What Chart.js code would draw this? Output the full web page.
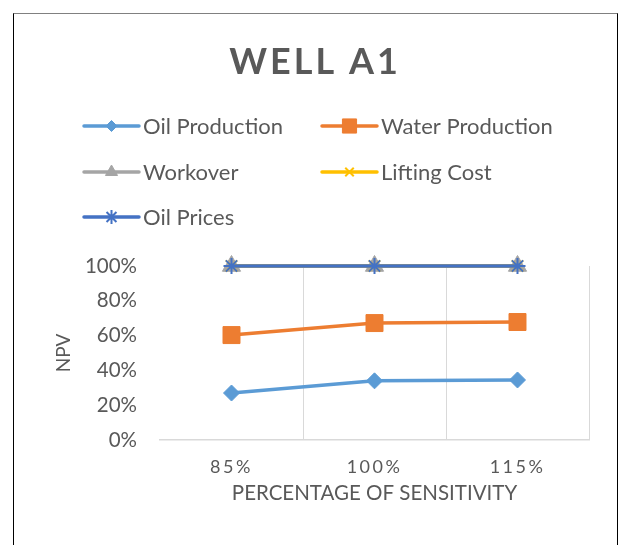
<!DOCTYPE html>
<html>
<head>
<meta charset="utf-8">
<script src="https://cdn.jsdelivr.net/npm/chart.js@4"></script>
<style>
  html, body { margin: 0; padding: 0; background: #fff; }
  #wrap { position: relative; width: 620px; height: 545px; overflow: hidden; }
  #moldura { position: absolute; left: 13px; top: 13px; width: 603px; height: 560px;
    border: 1px solid #000; border-top-color: #808080; }
  #grafico { position: absolute; left: 0; top: 0; }
</style>
</head>
<body>
<div id="wrap">
  <div id="moldura"></div>
  <canvas id="grafico" width="620" height="545"></canvas>
</div>
<script>
var categorias = ['85%', '100%', '115%']
var oilProduction = [27, 34, 34.5]
var waterProduction = [60.3, 67.2, 67.8]
var workover = [100, 100, 100]
var liftingCost = [100, 100, 100]
var oilPrices = [100, 100, 100]
var yTicks = [0, 20, 40, 60, 80, 100]

var cinza = '#595959'
var fonte = 'Lato, "Open Sans", sans-serif'

function serie(label, data, cor, estilo, raio, borda, ordem) {
    return {
        label: label,
        data: data,
        borderColor: cor,
        backgroundColor: cor,
        borderWidth: 3.5,
        pointStyle: estilo,
        pointRadius: raio,
        pointHoverRadius: raio,
        pointBackgroundColor: cor,
        pointBorderColor: cor,
        pointBorderWidth: borda,
        order: ordem,
        clip: false,
        tension: 0
    }
}

// letter spacing on canvas text (title and x labels)
function espacar(obj, metodo, espaco) {
    if (!obj || obj['_esp_' + metodo]) return
    var original = obj[metodo]
    obj[metodo] = function () {
        var c = this.ctx
        c.save()
        c.letterSpacing = espaco
        original.apply(this, arguments)
        c.restore()
    }
    obj['_esp_' + metodo] = true
}

var espacamento = {
    id: 'espacamento',
    afterLayout: function (chart) {
        // title centred on the whole frame, not only the padded area
        var t = chart.titleBlock
        t.left = 10
        t.right = chart.width
        t.width = t.right - t.left
    },
    beforeDraw: function (chart) {
        espacar(chart.titleBlock, 'draw', '3px')
        espacar(chart.scales.x, 'drawLabels', '2.5px')
    }
}

// excel style legend, two columns
var legendaExcel = {
    id: 'legendaExcel',
    afterDraw: function (chart, args, opts) {
        var c = chart.ctx
        chart.data.datasets.forEach(function (ds, i) {
            var x = opts.colunas[i % 2]
            var y = opts.linhas[Math.floor(i / 2)]
            c.save()
            c.strokeStyle = ds.borderColor
            c.lineWidth = ds.borderWidth
            c.lineCap = 'round'
            c.beginPath()
            c.moveTo(x, y)
            c.lineTo(x + opts.comprimento, y)
            c.stroke()
            c.fillStyle = ds.pointBackgroundColor
            c.strokeStyle = ds.pointBorderColor
            c.lineWidth = ds.pointBorderWidth
            c.lineCap = 'butt'
            Chart.helpers.drawPoint(c, {
                pointStyle: ds.pointStyle,
                radius: opts.raios[i],
                rotation: 0,
                borderWidth: ds.pointBorderWidth
            }, x + opts.comprimento / 2, y)
            c.fillStyle = cinza
            c.font = opts.tamanho + 'px ' + fonte
            c.textBaseline = 'middle'
            c.textAlign = 'left'
            c.fillText(ds.label, x + opts.comprimento + 4, y + 1)
            c.restore()
        })
    }
}

var ctx = document.getElementById('grafico')

var myChart = new Chart(ctx, {
    type: 'line',
    data: {
        labels: categorias,
        datasets: [
            serie('Oil Production', oilProduction, '#5B9BD5', 'rectRot', 8, 1, 5),
            serie('Water Production', waterProduction, '#ED7D31', 'rect', 12, 1, 4),
            serie('Workover', workover, '#A5A5A5', 'triangle', 10.5, 1, 3),
            serie('Lifting Cost', liftingCost, '#FFC000', 'crossRot', 8, 2, 2),
            serie('Oil Prices', oilPrices, '#4472C4', 'star', 8, 2, 1)
        ]
    },
    plugins: [espacamento, legendaExcel],
    options: {
        responsive: false,
        animation: false,
        layout: { padding: { top: 0, right: 31, bottom: 0, left: 0 } },
        plugins: {
            legend: { display: false },
            tooltip: { enabled: false },
            title: {
                display: true,
                text: 'WELL A1',
                color: cinza,
                font: { family: fonte, size: 36, weight: 'bold' },
                padding: { top: 41, bottom: 181.8 }
            },
            legendaExcel: {
                colunas: [84, 322],
                linhas: [126, 172, 217],
                comprimento: 55,
                tamanho: 22,
                raios: [5.5, 10, 7, 6, 7]
            }
        },
        scales: {
            x: {
                offset: true,
                grid: {
                    offset: true,
                    drawTicks: false,
                    color: function (c) {
                        return c.type === 'tick' && c.index === 0 ? 'rgba(0,0,0,0)' : '#d9d9d9'
                    },
                    lineWidth: 1
                },
                border: { display: true, color: '#d9d9d9', width: 1.5 },
                ticks: { color: cinza, font: { family: fonte, size: 18 }, padding: 16 },
                title: {
                    display: true,
                    text: 'PERCENTAGE OF SENSITIVITY',
                    color: cinza,
                    font: { family: fonte, size: 20.5 },
                    padding: { top: 4, bottom: 39 }
                },
                afterFit: function (scale) { scale.height = 105 }
            },
            y: {
                min: 0,
                max: 100,
                grid: { display: false, drawTicks: false },
                border: { display: false },
                afterBuildTicks: function (scale) {
                    scale.ticks = yTicks.map(function (v) { return { value: v } })
                },
                ticks: {
                    color: cinza,
                    font: { family: fonte, size: 20.5 },
                    padding: 23,
                    callback: function (v) { return v + '%' }
                },
                title: {
                    display: true,
                    text: 'NPV',
                    color: cinza,
                    font: { family: fonte, size: 19 },
                    padding: { top: 52, bottom: 0 }
                },
                afterFit: function (scale) { scale.width = 160 }
            }
        }
    }
})
</script>
</body>
</html>
